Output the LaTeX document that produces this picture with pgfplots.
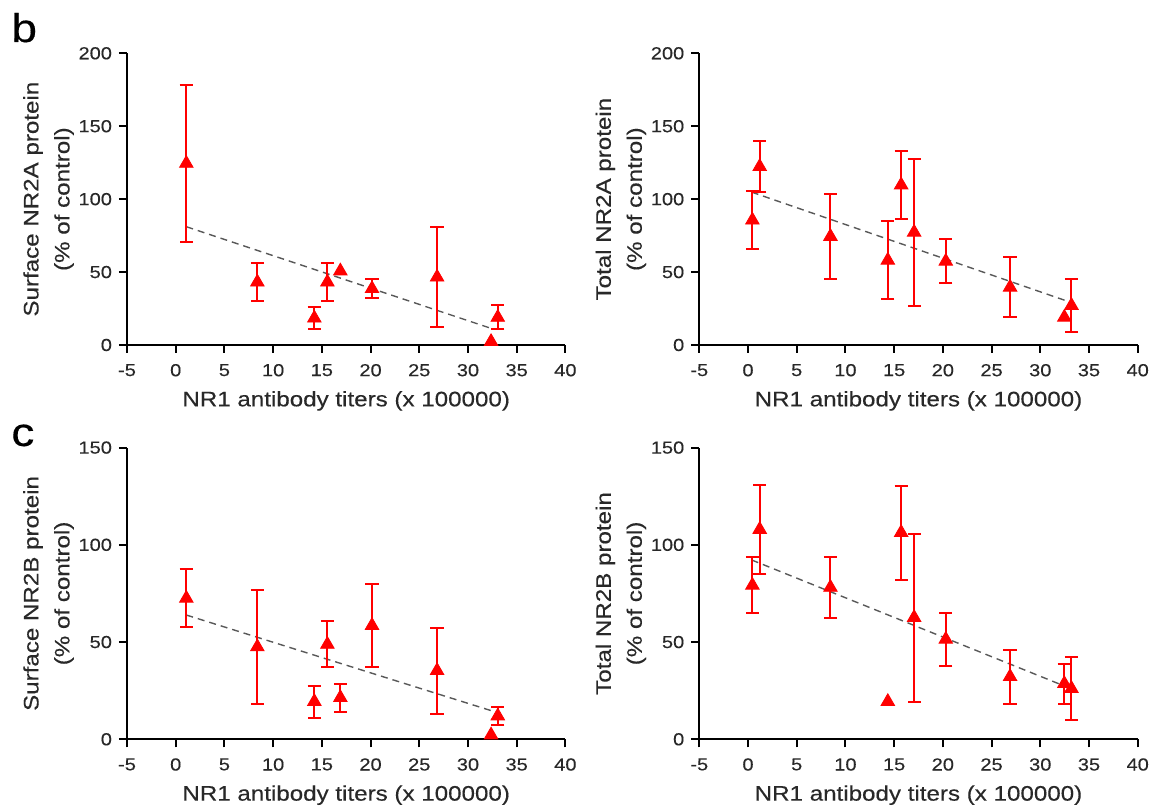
\documentclass[border=0pt]{standalone}
\usepackage{fontspec}
\setmainfont{Liberation Sans}[FakeStretch=1.15, FakeBold=0.3]
\usepackage{pgfplots}
\pgfplotsset{compat=1.18}

\definecolor{txt}{RGB}{40,40,40}
\pgfplotsset{
  panel/.style={
    scale only axis, width=219.2pt, height=145.85pt,
    axis x line*=bottom, axis y line*=left, axis line style={-, line width=1pt, black},
    tick align=outside, major tick length=4pt, tick style={line width=1pt, black},
    xmin=-5, xmax=40, xtick={-5,0,...,40}, ymin=0,
    clip=false,
    /pgf/number format/assume math mode=true,
    ticklabel style={font=\fontsize{8.7}{10}\selectfont, text=txt},
    xticklabel shift=2pt,
    xlabel={NR1 antibody titers (x 100000)}, xlabel shift=0.5pt,
    label style={font=\fontsize{10.5}{15.5}\selectfont, text=txt},
    ylabel style={align=center}, ylabel shift=-4.5pt,
  },
  pts/.style={only marks, red, mark=triangle*, mark size=3.9pt,
    error bars/.cd, y dir=both, y explicit,
    error bar style={line width=1pt, red},
    error mark options={rotate=90, mark size=3.3pt, line width=1pt, red}},
  solo/.style={only marks, red, mark=triangle*, mark size=3.9pt},
  fit/.style={dash pattern=on 3.5pt off 2.5pt, line width=0.7pt, black!65},
}

\begin{document}
\begin{tikzpicture}
\path[use as bounding box] (0,0) rectangle (579pt,406pt);
\node[anchor=base west, inner sep=0pt, font=\fontsize{20}{20}\selectfont] at (5.5pt,385pt) {b};
\node[anchor=base west, inner sep=0pt, font=\fontsize{20}{20}\selectfont] at (5.5pt,183pt) {c};

% b, surface NR2A
\begin{axis}[panel, at={(63.5pt,233.5pt)}, anchor=south west,
  ymax=200, ytick={0,50,...,200}, ylabel={Surface NR2A protein\\(\% of control)}]
\addplot[fit] coordinates {(1.09,81.1) (32.37,11.4)};
\addplot[pts] coordinates {
  (1.09,124.5) +- (0,53.6)
  (8.38,43.1) +- (0,12.9)
  (14.23,18.4) +- (0,7.4)
  (15.57,43.1) +- (0,12.9)
  (20.15,38.6) +- (0,6.4)
  (26.83,46.5) +- (0,34.2)
  (33.06,18.9) +- (0,8.2)
};
\addplot[solo] coordinates {(16.9,50.7) (32.37,2.3)};
\end{axis}

% b, total NR2A
\begin{axis}[panel, at={(349.65pt,233.5pt)}, anchor=south west,
  ymax=200, ytick={0,50,...,200}, ylabel={Total NR2A protein\\(\% of control)}]
\addplot[fit] coordinates {(0.38,104.8) (33.1,29.3)};
\addplot[pts] coordinates {
  (0.45,85.6) +- (0,20.0)
  (1.2,122.3) +- (0,17.6)
  (8.46,74.4) +- (0,29.4)
  (14.35,58.1) +- (0,26.7)
  (15.72,109.7) +- (0,23.3)
  (17.05,77.3) +- (0,50.3)
  (20.3,57.4) +- (0,15.1)
  (26.9,39.6) +- (0,20.6)
  (33.2,27.1) +- (0,18.0)
};
\addplot[solo] coordinates {(32.47,19.0)};
\end{axis}

% c, surface NR2B
\begin{axis}[panel, at={(63.5pt,36.35pt)}, anchor=south west,
  ymax=150, ytick={0,50,...,150}, ylabel={Surface NR2B protein\\(\% of control)}]
\addplot[fit] coordinates {(1.09,63.9) (32.4,14.7)};
\addplot[pts] coordinates {
  (1.09,72.5) +- (0,14.9)
  (8.38,47.5) +- (0,29.2)
  (14.23,19.4) +- (0,8.2)
  (15.57,48.8) +- (0,11.8)
  (16.9,21.4) +- (0,7.2)
  (20.15,58.5) +- (0,21.5)
  (26.83,35.3) +- (0,22.1)
  (33.06,12.0) +- (0,4.5)
};
\addplot[solo] coordinates {(32.37,2.2)};
\end{axis}

% c, total NR2B
\begin{axis}[panel, at={(349.65pt,36.35pt)}, anchor=south west,
  ymax=150, ytick={0,50,...,150}, ylabel={Total NR2B protein\\(\% of control)}]
\addplot[fit] coordinates {(0.38,92.2) (33.07,26.2)};
\addplot[pts] coordinates {
  (0.45,79.2) +- (0,14.4)
  (1.2,107.9) +- (0,22.7)
  (8.46,78.1) +- (0,15.5)
  (15.72,106.3) +- (0,24.2)
  (17.05,62.6) +- (0,43.2)
  (20.3,51.4) +- (0,13.5)
  (26.9,32.2) +- (0,13.9)
  (32.47,28.6) +- (0,10.3)
  (33.2,26.1) +- (0,16.0)
};
\addplot[solo] coordinates {(14.35,19.4)};
\end{axis}
\end{tikzpicture}
\end{document}
